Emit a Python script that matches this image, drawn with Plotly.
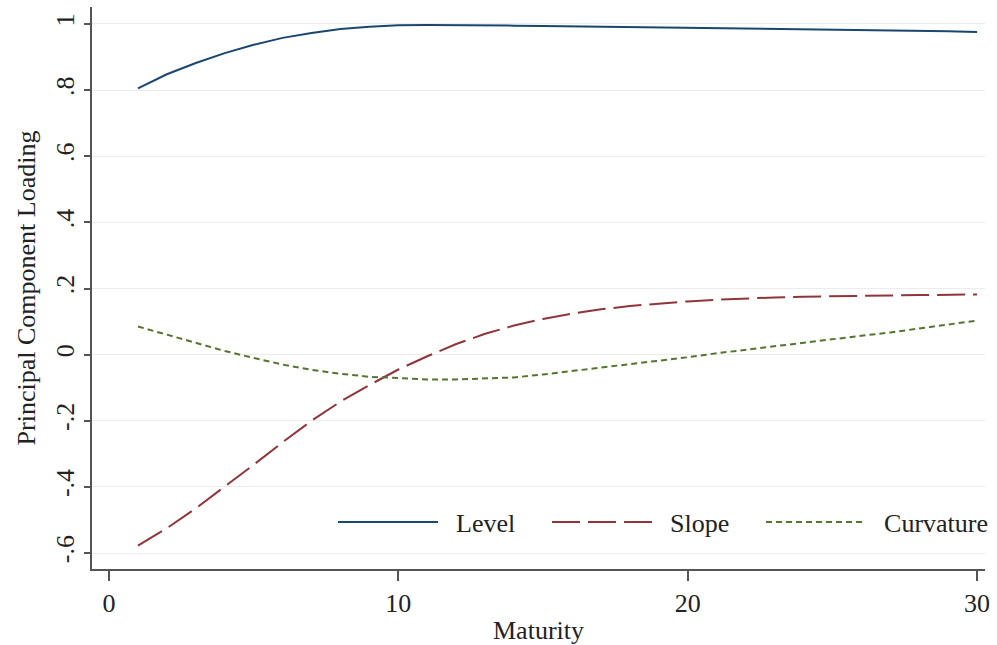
import plotly.graph_objects as go

maturity = list(range(1, 31))
level = [0.805, 0.848, 0.882, 0.912, 0.937, 0.958, 0.973, 0.985, 0.992, 0.996,
         0.997, 0.997, 0.996, 0.995, 0.994, 0.993, 0.992, 0.991, 0.990, 0.989,
         0.988, 0.987, 0.986, 0.985, 0.984, 0.983, 0.982, 0.980, 0.978, 0.976]
slope = [-0.578, -0.525, -0.465, -0.400, -0.333, -0.265, -0.200, -0.142, -0.092, -0.045,
         -0.005, 0.032, 0.063, 0.088, 0.108, 0.124, 0.137, 0.147, 0.155, 0.161,
         0.166, 0.170, 0.173, 0.175, 0.177, 0.178, 0.179, 0.180, 0.181, 0.182]
curvature = [0.085, 0.060, 0.035, 0.011, -0.010, -0.030, -0.046, -0.058, -0.067, -0.072,
             -0.075, -0.075, -0.073, -0.069, -0.060, -0.050, -0.040, -0.030, -0.020, -0.008,
             0.004, 0.015, 0.026, 0.037, 0.047, 0.057, 0.067, 0.079, 0.091, 0.103]
series_names = ["Level", "Slope", "Curvature"]

y_tickvals = [-0.6, -0.4, -0.2, 0, 0.2, 0.4, 0.6, 0.8, 1]
y_ticktext = ["-.6", "-.4", "-.2", "0", ".2", ".4", ".6", ".8", "1"]
x_tickvals = [0, 10, 20, 30]
x_ticktext = ["0", "10", "20", "30"]

FONT = "Liberation Serif, Times New Roman, serif"
PAD = "\u00a0\u00a0"

fig = go.Figure()
fig.add_trace(go.Scatter(x=maturity, y=level, mode="lines", name=PAD + series_names[0],
                         legend="legend",
                         line=dict(color="#1a476f", width=2)))
fig.add_trace(go.Scatter(x=maturity, y=slope, mode="lines", name=PAD + series_names[1],
                         legend="legend2",
                         line=dict(color="#90353b", width=2, dash="28px,8px")))
fig.add_trace(go.Scatter(x=maturity, y=curvature, mode="lines", name=PAD + series_names[2],
                         legend="legend3",
                         line=dict(color="#55752f", width=2, dash="6px,4px")))


def leg(xpos):
    return dict(orientation="h", x=xpos, xanchor="left", y=0.0836, yanchor="middle",
                bgcolor="rgba(0,0,0,0)", itemwidth=100,
                font=dict(family=FONT, size=26, color="#222222"),
                itemclick=False, itemdoubleclick=False)


fig.update_layout(
    width=997, height=645,
    margin=dict(l=92, r=12, t=7, b=76, autoexpand=False),
    paper_bgcolor="white", plot_bgcolor="white",
    font=dict(family=FONT, size=26, color="#222222"),
    legend=leg(0.2699), legend2=leg(0.5095), legend3=leg(0.7492),
    showlegend=True,
)
fig.update_xaxes(range=[-0.588, 30.276], tickvals=x_tickvals, ticktext=x_ticktext,
                 showgrid=False, zeroline=False, showline=True, linecolor="#555555",
                 linewidth=1.5, ticks="outside", ticklen=10, tickcolor="#555555",
                 tickwidth=1.5, automargin=False,
                 title=dict(text="Maturity", font=dict(size=26)))
fig.update_yaxes(range=[-0.6484, 1.0514], tickvals=y_tickvals, ticktext=y_ticktext,
                 tickangle=-90, showgrid=True, gridcolor="#ececec", gridwidth=1,
                 zeroline=False, showline=True, linecolor="#555555", linewidth=1.5,
                 ticks="outside", ticklen=6, tickcolor="#555555", tickwidth=1.5,
                 automargin=False,
                 title=dict(text="Principal Component Loading", standoff=8,
                            font=dict(size=26)))

fig.write_html("out.html", config={"displayModeBar": False},
               post_script="document.body.style.margin='0';document.body.style.overflow='hidden';")
